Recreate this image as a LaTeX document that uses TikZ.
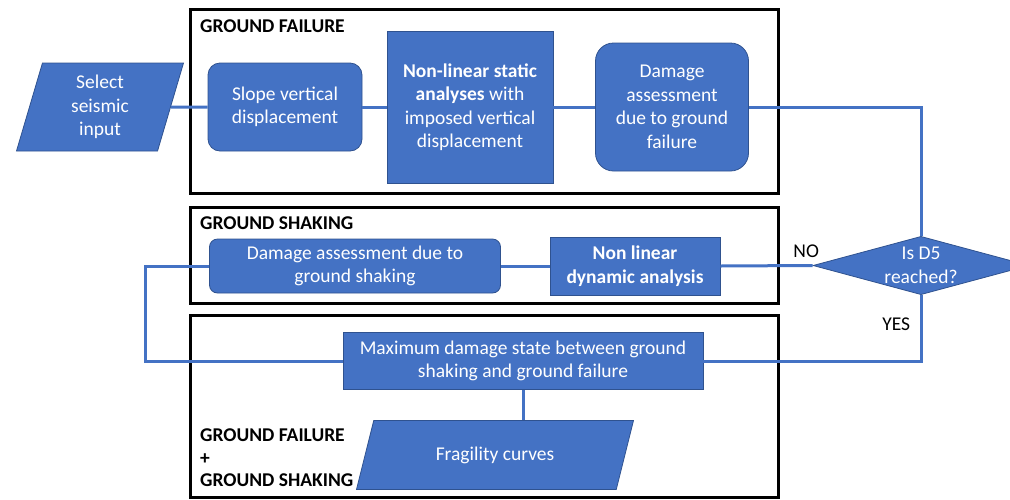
\documentclass[tikz,border=0pt]{standalone}
\usepackage{fontspec}
\setmainfont{Carlito}
\usetikzlibrary{shapes.geometric}

\definecolor{boxblue}{HTML}{4472C4}
\definecolor{edgeblue}{HTML}{2F528F}

\begin{document}
\begin{tikzpicture}[x=1pt,y=-1pt,
        every node/.style={font=\fontsize{19.5}{23.5}\selectfont},
        step box/.style={fill=boxblue,draw=edgeblue,line width=0.8pt,text=white,
            align=center,inner sep=2pt},
        round box/.style={step box,rounded corners=#1},
        input box/.style={step box,trapezium,trapezium stretches body,
            trapezium left angle=#1,trapezium right angle=180-#1},
        test box/.style={step box,diamond,inner sep=0pt,aspect=3.3},
        link/.style={draw=boxblue,line width=3pt},
        frame/.style={draw=black,line width=3pt},
        title/.style={anchor=north west,inner sep=0pt,align=left,font=\fontsize{19.5}{23.5}\selectfont\bfseries}]
        \useasboundingbox (0,0) rectangle (1010,499);
        \clip (0,0) rectangle (1010,499);

        % frames
        \draw[frame] (190,9) rectangle (778,193);
        \draw[frame] (190,207) rectangle (778,303);
        \draw[frame] (190,315) rectangle (778,497);
        \node[title] (tgf) at (200,20) {GROUND FAILURE};
        \node[title] (tgs) at (200,217) {GROUND SHAKING};
        \node[title] (tall) at (200,429) {GROUND FAILURE\\[-1pt]+\\[-1pt]GROUND SHAKING};

        % ground failure row
        \node[input box=69,minimum width=167,minimum height=88] (sel) at (100,107) {Select\\seismic\\input};
        \node[round box=12pt,minimum width=154,minimum height=88] (slope) at (285,107) {Slope vertical\\displacement};
        \node[step box,minimum width=166,minimum height=152] (nls) at (470,107) {\textbf{Non-linear static}\\\textbf{analyses} with\\imposed vertical\\displacement};
        \node[round box=18pt,minimum width=153,minimum height=128] (dgf) at (672,107) {Damage\\assessment\\due to ground\\failure};

        % ground shaking row
        \node[test box,minimum width=216] (d5) at (921,265.5) {Is D5\\reached?};
        \node[step box,minimum width=170,minimum height=58] (nld) at (635,266) {\textbf{Non linear}\\\textbf{dynamic analysis}};
        \node[round box=8pt,minimum width=291,minimum height=54] (dgs) at (355,266) {Damage assessment due to\\ground shaking};

        % combined result
        \node[step box,minimum width=360,minimum height=57] (maxd) at (523,361) {Maximum damage state between ground\\shaking and ground failure};
        \node[input box=50.4,minimum width=277,minimum height=69] (frag) at (495,455) {Fragility curves};
        \coordinate (loop) at (145,361);

        \draw[link] (sel) -- (slope);
        \draw[link] (slope) -- (nls);
        \draw[link] (nls) -- (dgf);
        \draw[link] (dgf.east) -| (d5.north);
        \draw[link] (d5.west) -- node[pos=0.07,above=3pt,text=black] {NO} (nld.east);
        \draw[link] (nld) -- (dgs);
        \draw[link] (dgs.west) -| (loop) -- (maxd.west);
        \draw[link] (d5.south) |- node[pos=0.22,left=6pt,text=black] {YES} (maxd.east);
        \draw[link] (maxd.south) -- (maxd.south |- frag.north);
\end{tikzpicture}
\end{document}
